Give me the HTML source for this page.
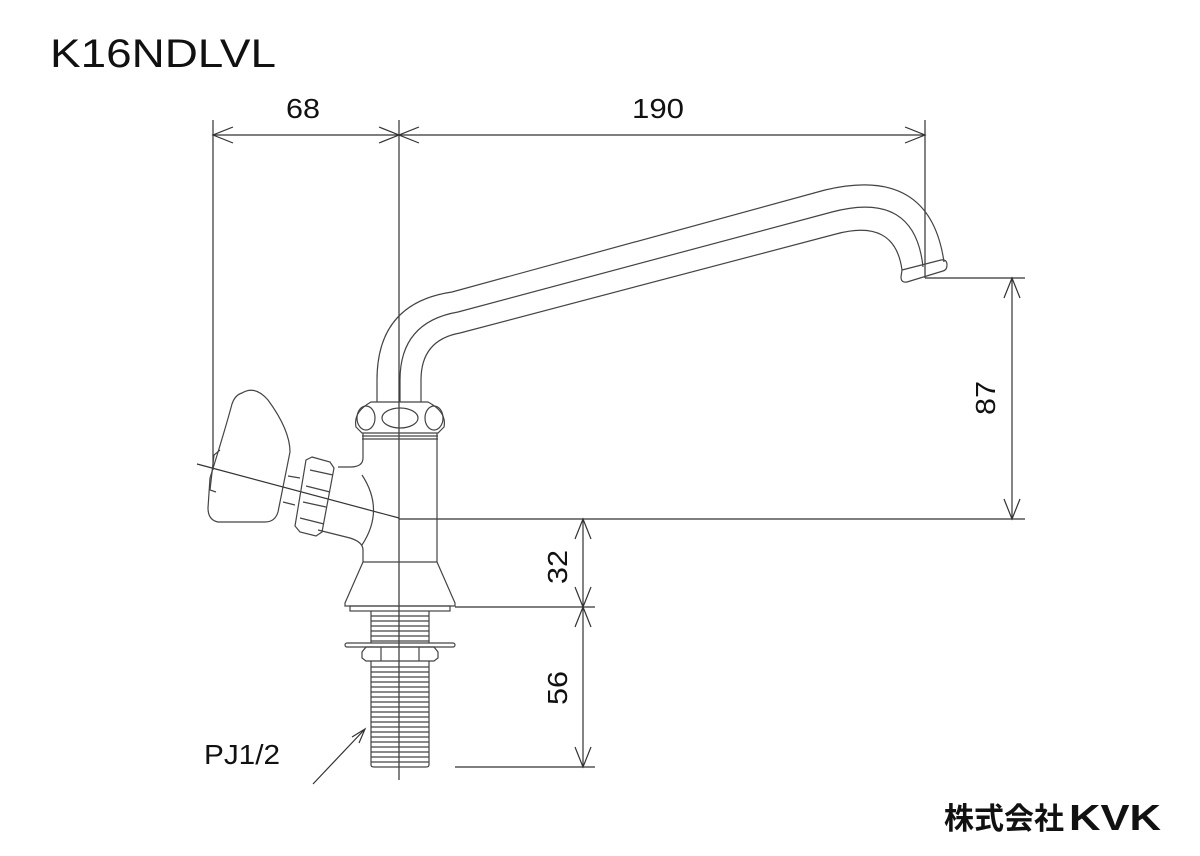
<!DOCTYPE html>
<html><head><meta charset="utf-8"><style>
html,body{margin:0;padding:0;background:#fff;}
svg{display:block}
text{font-family:"Liberation Sans","Noto Sans CJK JP",sans-serif;fill:#111}
</style></head><body>
<svg width="1200" height="856" viewBox="0 0 1200 856" xmlns="http://www.w3.org/2000/svg">
<text x="50" y="67" font-size="40" textLength="226" lengthAdjust="spacingAndGlyphs">K16NDLVL</text>
<g stroke="#333" stroke-width="1.2" fill="none">
<line x1="213" y1="120" x2="213" y2="470"/>
<line x1="399" y1="120" x2="399" y2="780"/>
<line x1="925" y1="120" x2="925" y2="278"/>
<line x1="213" y1="135" x2="925" y2="135"/>
<path d="M233,127 L213,135 L233,143 M379,127 L399,135 L379,143 M419,127 L399,135 L419,143 M905,127 L925,135 L905,143"/>
<line x1="925" y1="278" x2="1025" y2="278"/>
<line x1="399" y1="519" x2="1025" y2="519"/>
<line x1="1012" y1="278" x2="1012" y2="519"/>
<path d="M1004,298 L1012,278 L1020,298 M1004,499 L1012,519 L1020,499"/>
<line x1="455" y1="607" x2="595" y2="607"/>
<line x1="455" y1="767" x2="595" y2="767"/>
<line x1="583" y1="519" x2="583" y2="767"/>
<path d="M575,539 L583,519 L591,539 M575,587 L583,607 L591,587 M575,627 L583,607 L591,627 M575,747 L583,767 L591,747"/>
<line x1="197" y1="464" x2="399" y2="518"/>
<path d="M313,784 L365,729 M352,737 L365,729 L359,743"/>
</g>
<text x="303" y="118" font-size="28" text-anchor="middle" textLength="34" lengthAdjust="spacingAndGlyphs">68</text>
<text x="658" y="118" font-size="28" text-anchor="middle" textLength="52" lengthAdjust="spacingAndGlyphs">190</text>
<text transform="translate(995,398) rotate(-90)" font-size="28" text-anchor="middle" textLength="34" lengthAdjust="spacingAndGlyphs">87</text>
<text transform="translate(567,567) rotate(-90)" font-size="28" text-anchor="middle" textLength="34" lengthAdjust="spacingAndGlyphs">32</text>
<text transform="translate(567,688) rotate(-90)" font-size="28" text-anchor="middle" textLength="34" lengthAdjust="spacingAndGlyphs">56</text>
<text x="204" y="764" font-size="28" textLength="76" lengthAdjust="spacingAndGlyphs">PJ1/2</text>
<g stroke="#444" stroke-width="1.2" fill="none">
<path d="M377,402 L377,380 Q377,303 452,292 L825,190 Q930,165 944,262"/>
<path d="M400,402 L400,380 Q400,322 458,312 L832,212 Q915,190 923,267"/>
<path d="M421,402 L421,380 Q421,340 460,333 L836,234 Q895,218 902,270"/>
<path d="M902,270 L941,260 Q947,259 947,265 Q947,270 943,271 L907,282 Q901,283 901,277 Z"/>
<path d="M371,402 L428,402 Q447,412 444,427 L438,433 L362,433 L356,427 Q353,412 371,402 Z"/>
<ellipse cx="366" cy="418" rx="9" ry="12"/>
<ellipse cx="400" cy="418" rx="18" ry="10"/>
<ellipse cx="434" cy="418" rx="9" ry="12"/>
<line x1="362" y1="436" x2="438" y2="436"/>
<line x1="362" y1="439" x2="438" y2="439"/>
<path d="M363,433 L363,458 Q363,467 350,467 L338,467"/>
<path d="M437,433 L437,562"/>
<path d="M318,530 L350,538 Q363,542 363,550 L363,562"/>
<path d="M362,475 Q385,510 362,545"/>
<line x1="363" y1="562" x2="437" y2="562"/>
<path d="M363,562 L345,603 L345,606 L455,606 L455,603 L437,562"/>
<rect x="350" y="606" width="100" height="5"/>
<path d="M371,611 L371,643 M429,611 L429,643"/>
<path d="M371,616H429M371,621H429M371,626H429M371,631H429M371,636H429M371,641H429"/>
<rect x="345" y="643" width="110" height="4" rx="2"/>
<path d="M366,647 L434,647 L438,652 L438,658 L434,661 L366,661 L362,658 L362,652 Z M381,647 L381,661 M419,647 L419,661"/>
<path d="M371,661 L371,765 Q371,767 374,767 L426,767 Q429,767 429,765 L429,661"/>
<path d="M371,667H429M371,672H429M371,677H429M371,682H429M371,687H429M371,692H429M371,697H429M371,702H429M371,707H429M371,712H429M371,717H429M371,722H429M371,727H429M371,732H429M371,737H429M371,742H429M371,747H429M371,752H429M371,757H429M371,762H429"/>
<path d="M242,393 Q255,385 268,400 Q290,430 290,452 L278,512 Q275,522 265,522 L218,522 Q208,520 208,508 L210,478 Q225,430 232,404 Q235,395 242,393 Z"/>
<path d="M220,450 L214,455 L210,490 L216,492"/>
<path d="M288,476 L300,478 M283,502 L295,505"/>
<path d="M312,457 L330,462 L334,468 L322,532 L316,536 L300,532 L295,526 L306,460 Z"/>
<path d="M310,470 L333,475 M306,486 L330,492 M303,502 L326,507 M300,518 L324,524"/>
</g>
<text x="944" y="829" font-size="30" font-weight="bold" font-family="'Noto Sans CJK JP',sans-serif">株式会社</text>
<text x="1069" y="830" font-size="36" font-weight="bold" textLength="92" lengthAdjust="spacingAndGlyphs" style="font-family:'Liberation Sans',sans-serif;font-weight:900">KVK</text>
</svg>
</body></html>
